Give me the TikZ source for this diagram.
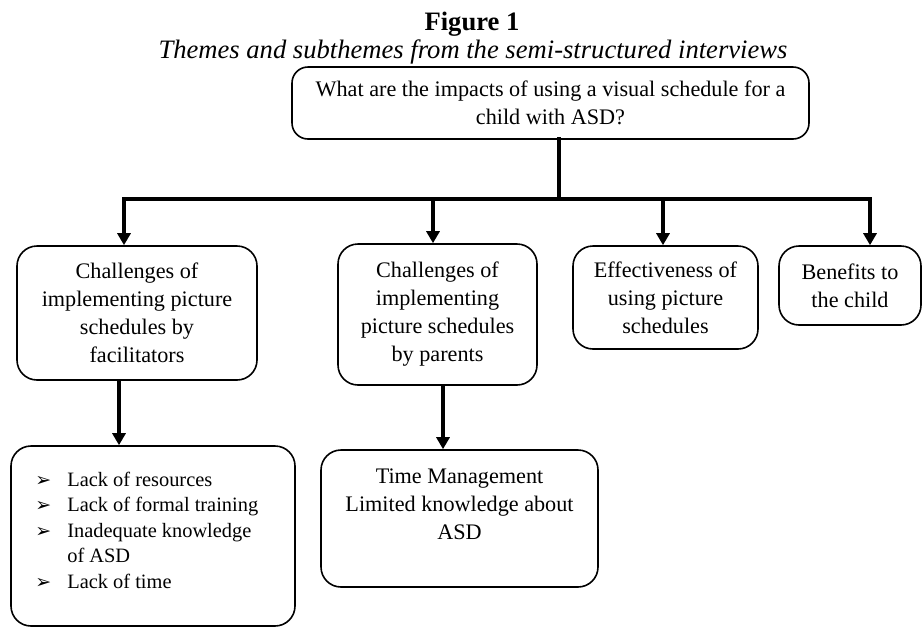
\documentclass[tikz,border=0pt]{standalone}
\usepackage{fontspec}
\setmainfont{Liberation Serif}
\newfontfamily\arrowfont{DejaVu Sans}
\usetikzlibrary{arrows.meta}
\newcommand{\itemmark}{{\arrowfont\fontsize{9.5}{9.5}\selectfont ➢}}

\begin{document}
\begin{tikzpicture}[
  x=0.5pt,y=-0.5pt,
  font=\fontsize{11.1}{14}\selectfont,
  box/.style={draw,rounded corners=10pt,line width=0.8pt,inner sep=0pt,align=center},
  ar/.style={-{Triangle[length=6pt,width=6.5pt]},line width=2pt},
  bar/.style={line width=2.4pt,line cap=rect}]

 \useasboundingbox (0,0) rectangle (924,628);

 % ---- title ----
 \node[font=\fontsize{13.3}{15}\selectfont\bfseries,anchor=base] (fig) at (472,30) {Figure 1};
 \node[font=\fontsize{13.3}{15}\selectfont\itshape,anchor=base] (cap) at (473,58) {Themes and subthemes from the semi-structured interviews};

 % ---- research question ----
 \node[box,rounded corners=8pt,minimum width=258.5pt,minimum height=36pt] (q) at (550.5,103) {What are the impacts of using a visual schedule for a\\child with ASD?};

 % ---- themes ----
 \node[box,minimum width=120pt,minimum height=67pt] (fac) at (137,313) {Challenges of\\implementing picture\\schedules by\\facilitators};
 \node[box,minimum width=99.5pt,minimum height=70.5pt] (par) at (437.5,314.5) {Challenges of\\implementing\\picture schedules\\by parents};
 \node[box,minimum width=92.5pt,minimum height=51.5pt] (eff) at (665.5,297.5) {Effectiveness of\\using picture\\schedules};
 \node[box,minimum width=71pt,minimum height=39.5pt] (ben) at (850,285.5) {Benefits to\\the child};

 % ---- subthemes ----
 \node[box,minimum width=142pt,minimum height=90pt] (lst) at (153,536) {};
 \node[anchor=north west,inner sep=0pt,font=\fontsize{10.2}{12.75}\selectfont] (lsttxt) at (35,468) {%
   \begin{tabular}{@{}l@{\hspace{8pt}}l@{}}
     \itemmark & Lack of resources\\
     \itemmark & Lack of formal training\\
     \itemmark & Inadequate knowledge\\
               & of ASD\\
     \itemmark & Lack of time
   \end{tabular}};
 \node[box,minimum width=138.5pt,minimum height=68.5pt] (tm) at (459.5,518.5) {};
 \node[anchor=north,inner sep=0pt,align=center] (tmtxt) at (459.5,468.5) {Time Management\\Limited knowledge about\\ASD};

 % ---- connectors ----
 \coordinate (j) at (559,199);
 \coordinate (t1) at (124,199);
 \coordinate (t2) at (433,199);
 \coordinate (t3) at (663,199);
 \coordinate (t4) at (870,199);
 \draw[bar] (q.south -| j) -- (j);
 \draw[bar] (t1) -- (t4);
 \foreach \src/\dst in {t1/fac,t2/par,t3/eff,t4/ben}
   \draw[ar] (\src) -- (\src |- \dst.north);

 \coordinate (u1) at ([xshift=-9pt]fac.south);
 \coordinate (u2) at ([xshift=2.75pt]par.south);
 \draw[ar] (u1) -- (u1 |- lst.north);
 \draw[ar] (u2) -- (u2 |- tm.north);
\end{tikzpicture}
\end{document}
